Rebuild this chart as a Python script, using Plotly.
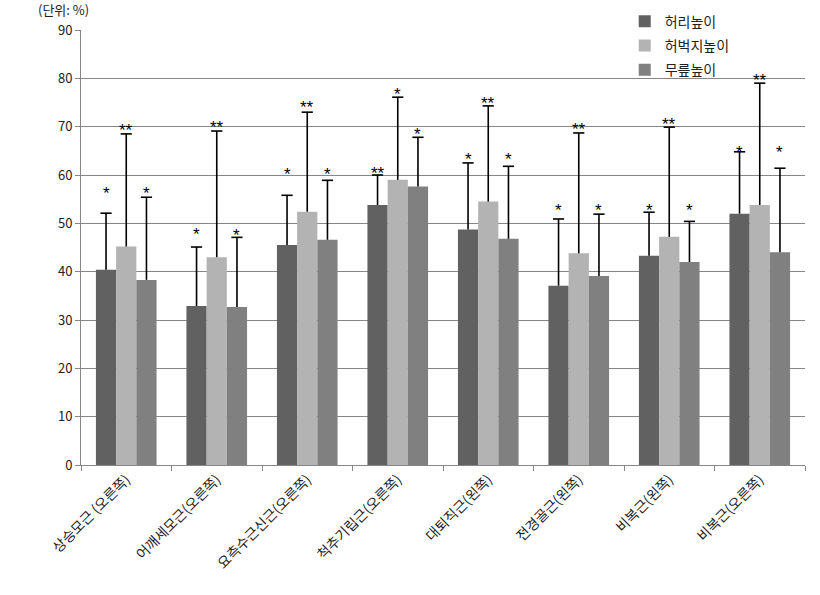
import plotly.graph_objects as go

categories = ["상승모근 (오른쪽)", "어깨세모근(오른쪽)", "요측수근신근(오른쪽)", "척추기립근(오른쪽)",
              "대퇴직근(왼쪽)", "전경골근(왼쪽)", "비복근(왼쪽)", "비복근(오른쪽)"]
series_names = ["허리높이", "허벅지높이", "무릎높이"]

waist = [40.4, 32.9, 45.5, 53.8, 48.7, 37.1, 43.3, 52.0]
thigh = [45.2, 43.0, 52.4, 59.0, 54.5, 43.8, 47.2, 53.8]
knee = [38.3, 32.7, 46.6, 57.6, 46.8, 39.1, 42.0, 44.0]

waist_err_top = [52.1, 45.1, 55.8, 60.0, 62.5, 50.9, 52.3, 64.8]
thigh_err_top = [68.5, 69.1, 73.0, 76.1, 74.3, 68.7, 69.9, 79.0]
knee_err_top = [55.4, 47.1, 58.9, 67.8, 61.8, 51.9, 50.4, 61.4]

waist_sig = ["*", "*", "*", "**", "*", "*", "*", "*"]
thigh_sig = ["**", "**", "**", "*", "**", "**", "**", "**"]
knee_sig = ["*", "*", "*", "*", "*", "*", "*", "*"]

waist_sig_y = [56.9, 48.5, 60.9, 61.1, 64.0, 53.5, 53.5, 65.4]
thigh_sig_y = [70.0, 70.6, 74.7, 77.5, 75.6, 70.2, 71.2, 80.3]
knee_sig_y = [56.9, 48.3, 60.9, 69.2, 64.0, 53.5, 53.5, 65.4]

colors = ["#616161", "#b3b3b3", "#808080"]
FONT = "Noto Sans CJK KR"
bargap = 0.33

values = [waist, thigh, knee]
err_tops = [waist_err_top, thigh_err_top, knee_err_top]
sigs = [waist_sig, thigh_sig, knee_sig]
sig_ys = [waist_sig_y, thigh_sig_y, knee_sig_y]

idx = list(range(len(categories)))
bw = (1 - bargap) / 3

fig = go.Figure()
for k in range(3):
    fig.add_trace(go.Bar(
        x=idx, y=values[k], name=series_names[k],
        marker=dict(color=colors[k], line=dict(width=0)),
        legendgroup=series_names[k],
    ))
# error whiskers (upper only) with a cap only at the top
for k in range(3):
    off = (k - 1) * bw
    fig.add_trace(go.Scatter(
        x=[i + off for i in idx], y=err_tops[k], mode="markers", showlegend=False,
        legendgroup=series_names[k], hoverinfo="skip",
        marker=dict(symbol="line-ew", size=8, color="black",
                    line=dict(color="black", width=1.6)),
        error_y=dict(type="data", symmetric=False,
                     array=[0] * len(categories),
                     arrayminus=[t - v for t, v in zip(err_tops[k], values[k])],
                     color="black", thickness=1.6, width=0),
    ))

annotations = []
for k in range(3):
    off = (k - 1) * bw
    for i in idx:
        annotations.append(dict(
            x=i + off, y=sig_ys[k][i], xref="x", yref="y", text=sigs[k][i],
            showarrow=False, yanchor="middle", xanchor="center",
            font=dict(family="Liberation Sans", size=17, color="black"), yshift=-4))

annotations.append(dict(x=-0.0235, y=1.047, xref="paper", yref="paper", text="(단위: %)",
                        showarrow=False, xanchor="center", yanchor="middle",
                        font=dict(family=FONT, size=13, color="#222222")))

fig.update_layout(
    width=820, height=595,
    margin=dict(l=81, r=15, t=30, b=130, autoexpand=False),
    paper_bgcolor="white", plot_bgcolor="white",
    barmode="group", bargap=bargap, bargroupgap=0,
    font=dict(family=FONT, size=13, color="#222222"),
    legend=dict(x=0.751, y=1.056, xanchor="left", yanchor="top",
                bgcolor="rgba(0,0,0,0)", tracegroupgap=3,
                font=dict(family=FONT, size=14, color="#222222"),
                itemwidth=30),
    annotations=annotations,
    showlegend=True,
)
fig.update_xaxes(type="linear", range=[-0.5, len(categories) - 0.5],
                 tickvals=idx, ticktext=categories, ticks="",
                 minor=dict(tickvals=[i - 0.5 for i in idx] + [len(categories) - 0.5],
                            ticks="outside", ticklen=5, tickcolor="#868686", showgrid=False),
                 showline=True, linecolor="#868686", linewidth=1,
                 tickangle=-45, showgrid=False, zeroline=False,
                 tickfont=dict(family=FONT, size=14, color="#222222"))
fig.update_yaxes(range=[0, 90], dtick=10, showgrid=True, gridcolor="#868686", gridwidth=1,
                 showline=True, linecolor="#868686", linewidth=1,
                 ticks="outside", ticklen=5, tickcolor="#868686", zeroline=False,
                 tickfont=dict(family=FONT, size=13, color="#222222"))

fig.write_html("out.html")
